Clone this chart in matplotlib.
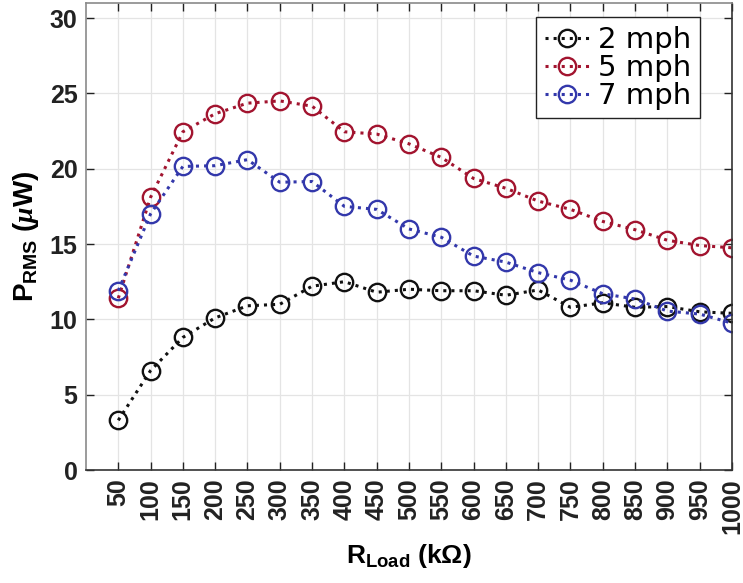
import matplotlib
matplotlib.use('Agg')
import matplotlib.pyplot as plt

# Load resistance (kOhm) and RMS power (uW) for three wind speeds
r_load = [50, 100, 150, 200, 250, 300, 350, 400, 450, 500,
          550, 600, 650, 700, 750, 800, 850, 900, 950, 1000]
p_2mph = [3.3, 6.6, 8.8, 10.1, 10.9, 11.0, 12.2, 12.5, 11.8, 12.0,
          11.9, 11.9, 11.6, 11.95, 10.8, 11.1, 10.8, 10.85, 10.5, 10.4]
p_5mph = [11.4, 18.1, 22.45, 23.65, 24.35, 24.5, 24.15, 22.45, 22.3, 21.65,
          20.75, 19.35, 18.7, 17.85, 17.3, 16.5, 15.95, 15.25, 14.9, 14.75]
p_7mph = [11.9, 17.0, 20.15, 20.2, 20.6, 19.1, 19.15, 17.5, 17.3, 16.0,
          15.45, 14.2, 13.8, 13.1, 12.6, 11.7, 11.35, 10.55, 10.35, 9.75]
labels = ['2 mph', '5 mph', '7 mph']
colors = ['#111111', '#a2142f', '#3338ab']

plt.rcParams['font.family'] = ['Liberation Sans', 'DejaVu Sans']
plt.rcParams['mathtext.fontset'] = 'custom'
plt.rcParams['mathtext.rm'] = 'Liberation Sans'
plt.rcParams['mathtext.bf'] = 'Liberation Sans:bold'
plt.rcParams['mathtext.it'] = 'Liberation Serif:italic:bold'

fig = plt.figure(figsize=(7.43, 5.83), dpi=100)
ax = fig.add_axes([0.1157, 0.1938, 0.8695, 0.8011])

for ys, lab, c in zip([p_2mph, p_5mph, p_7mph], labels, colors):
    ax.plot(r_load, ys, linestyle=':', linewidth=2.2, color=c,
            marker='o', markersize=12.5, markerfacecolor='none',
            markeredgewidth=1.7, markeredgecolor=c, label=lab)

ax.set_xlim(0, 1000)
ax.set_ylim(0, 31)
ax.set_xticks(r_load)
ax.set_xticklabels([str(v) for v in r_load], rotation=90, fontsize=18,
                   fontweight='bold')
ax.set_yticks([0, 5, 10, 15, 20, 25, 30])
ax.set_yticklabels(['0', '5', '10', '15', '20', '25', '30'], fontsize=18,
                   fontweight='bold')
ax.tick_params(direction='in', length=6, width=1, top=True, right=True,
               colors='#222222')
ax.tick_params(axis='x', pad=6)
ax.tick_params(axis='y', pad=6)

ax.grid(True, color='#e4e4e4', linewidth=0.9)
ax.set_axisbelow(True)
for side in ['left', 'top']:
    ax.spines[side].set_color('#8a8a8a')
for side in ['bottom', 'right']:
    ax.spines[side].set_color('#333333')
for s in ax.spines.values():
    s.set_linewidth(1.2)

ax.set_xlabel(r'$\mathbf{R_{Load}}$ $\mathbf{(k\Omega)}$', fontsize=19,
              labelpad=6)
ax.set_ylabel(r'$\mathbf{P_{RMS}}$ $\mathbf{(}\mu\mathbf{W)}$', fontsize=20,
              labelpad=6)

leg = ax.legend(loc='upper right', bbox_to_anchor=(0.950, 0.970),
                borderaxespad=0, labelspacing=0.0,
                handlelength=1.5, handletextpad=0.3, borderpad=0.3,
                fancybox=False, framealpha=1,
                prop={'family': 'DejaVu Sans', 'size': 21})
leg.get_frame().set_edgecolor('#222222')
leg.get_frame().set_linewidth(1.0)

fig.savefig('out.png', dpi=100)
